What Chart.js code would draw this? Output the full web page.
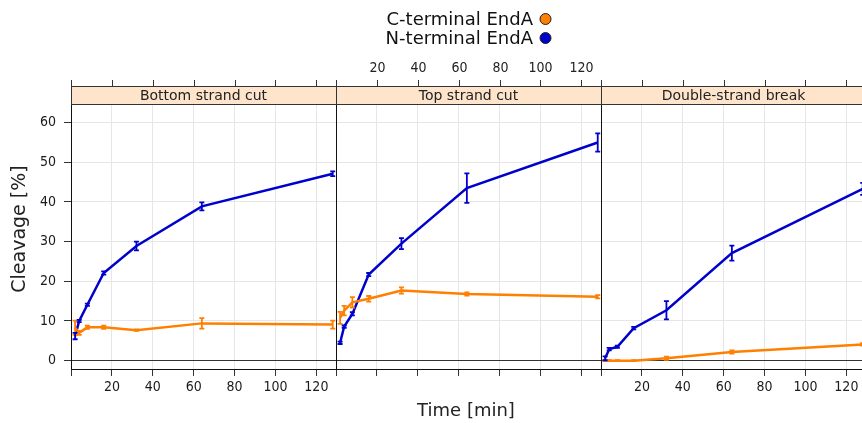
<!DOCTYPE html>
<html><head><meta charset="utf-8">
<script src="https://cdn.jsdelivr.net/npm/chart.js@4.4.1/dist/chart.umd.min.js"></script>
<style>
html,body{margin:0;padding:0;background:#fff;overflow:hidden;width:862px;height:423px;}
canvas{position:absolute;left:0;top:0;}
</style></head><body>
<canvas id="c0" width="870" height="423"></canvas>
<canvas id="c1" width="870" height="423"></canvas>
<canvas id="c2" width="870" height="423"></canvas>
<script>
// ---- data ----
const PANELS = ['Bottom strand cut', 'Top strand cut', 'Double-strand break'];
const SERIES_NAMES = ['C-terminal EndA', 'N-terminal EndA'];
const TIMES = [2, 4, 8, 16, 32, 64, 128];
const X_TICKS = [0, 20, 40, 60, 80, 100, 120];
const Y_TICKS = [0, 10, 20, 30, 40, 50, 60];

const C_BOTTOM     = [8.3, 7.0, 8.4, 8.4, 7.7, 9.4, 9.1];
const C_BOTTOM_ERR = [1.8, 0.5, 0.4, 0.4, 0.2, 1.3, 1.0];
const N_BOTTOM     = [6.2, 10.0, 14.1, 22.1, 28.9, 38.9, 47.1];
const N_BOTTOM_ERR = [0.8, 0.3, 0.3, 0.4, 1.1, 1.0, 0.6];

const C_TOP     = [10.8, 12.6, 14.7, 15.6, 17.7, 16.8, 16.1];
const C_TOP_ERR = [1.5, 1.2, 1.3, 0.7, 0.8, 0.4, 0.4];
const N_TOP     = [4.5, 8.6, 11.8, 21.7, 29.5, 43.5, 55.0];
const N_TOP_ERR = [0.3, 0.3, 0.4, 0.4, 1.4, 3.7, 2.3];

const C_DSB     = [0.0, 0.0, 0.0, 0.0, 0.6, 2.2, 4.1];
const C_DSB_ERR = [0.1, 0.1, 0.1, 0.1, 0.4, 0.4, 0.3];
const N_DSB     = [0.6, 2.9, 3.5, 8.2, 12.7, 27.1, 43.3];
const N_DSB_ERR = [0.5, 0.3, 0.3, 0.3, 2.3, 1.9, 1.5];

const C_VALUES = [C_BOTTOM, C_TOP, C_DSB];
const C_ERRORS = [C_BOTTOM_ERR, C_TOP_ERR, C_DSB_ERR];
const N_VALUES = [N_BOTTOM, N_TOP, N_DSB];
const N_ERRORS = [N_BOTTOM_ERR, N_TOP_ERR, N_DSB_ERR];

// ---- styling / layout ----
const ORANGE = '#FF7F00', BLUE = '#0000CC';
const CANVAS_W = 870;
const PANEL_LEFT = [71, 336, 601], PANEL_RIGHT = [336, 601, 866];
const TICK_FONT = "'DejaVu Sans Condensed', 'DejaVu Sans', sans-serif";
const TEXT_FONT = "'DejaVu Sans', sans-serif";
const X_MIN = 0, X_MAX = 129.6, Y_MIN = -2.1, Y_MAX = 64.7;

const decor = {
  id: 'decor',
  afterDatasetsDraw(chart, args, o) {
    const ctx = chart.ctx, xs = chart.scales.x, ys = chart.scales.y, a = chart.chartArea;
    // error bars
    chart.data.datasets.forEach((ds, di) => {
      ctx.save();
      ctx.beginPath(); ctx.rect(a.left, a.top, a.right - a.left, a.bottom - a.top); ctx.clip();
      ctx.strokeStyle = ds.borderColor; ctx.lineWidth = 1.8;
      ds.data.forEach((p, k) => {
        const e = ds.errors[k]; if (!e) return;
        const x = xs.getPixelForValue(p.x);
        const y1 = ys.getPixelForValue(p.y + e), y2 = ys.getPixelForValue(p.y - e);
        ctx.beginPath();
        ctx.moveTo(x, y1); ctx.lineTo(x, y2);
        ctx.moveTo(x - 2.5, y1); ctx.lineTo(x + 2.5, y1);
        ctx.moveTo(x - 2.5, y2); ctx.lineTo(x + 2.5, y2);
        ctx.stroke();
      });
      ctx.restore();
    });
    ctx.save();
    // frame
    ctx.strokeStyle = '#111'; ctx.lineWidth = 1;
    ctx.strokeRect(Math.round(a.left) + 0.5, Math.round(a.top) + 0.5, Math.round(a.right - a.left), Math.round(a.bottom - a.top));
    // strip
    ctx.fillStyle = '#FFE4CC';
    ctx.fillRect(a.left, 86, a.right - a.left, a.top - 86);
    ctx.strokeStyle = '#333';
    ctx.strokeRect(Math.round(a.left) + 0.5, 86.5, Math.round(a.right - a.left), Math.round(a.top - 86));
    ctx.fillStyle = '#222'; ctx.font = '14px ' + TEXT_FONT;
    ctx.textAlign = 'center'; ctx.textBaseline = 'middle';
    ctx.fillText(o.strip, (a.left + a.right) / 2, 96);
    // top ticks
    ctx.strokeStyle = '#333'; ctx.lineWidth = 1;
    ctx.font = '14px ' + TICK_FONT;
    X_TICKS.forEach(v => {
      const x = Math.round(xs.getPixelForValue(v)) + 0.5;
      ctx.beginPath(); ctx.moveTo(x, 80); ctx.lineTo(x, 86); ctx.stroke();
      if (o.topLabels && v !== 0) ctx.fillText(String(v), x, 68);
    });
    // legend
    if (o.legend) {
      const cols = [ORANGE, BLUE], ys2 = [19, 38];
      ctx.font = '18px ' + TEXT_FONT; ctx.textAlign = 'right';
      SERIES_NAMES.forEach((n, k) => {
        ctx.fillStyle = '#111';
        ctx.fillText(n, 533, ys2[k] + 1);
        ctx.beginPath(); ctx.arc(545.5, ys2[k], 5.5, 0, Math.PI * 2);
        ctx.fillStyle = cols[k]; ctx.fill();
        ctx.strokeStyle = '#222'; ctx.lineWidth = 1; ctx.stroke();
      });
    }
    if (o.xTitle) {
      ctx.fillStyle = '#222'; ctx.font = '18px ' + TEXT_FONT; ctx.textAlign = 'center';
      ctx.fillText('Time [min]', 466, 411);
    }
    if (o.yTitle) {
      ctx.save();
      ctx.translate(20, 229); ctx.rotate(-Math.PI / 2);
      ctx.fillStyle = '#222'; ctx.font = '19px ' + TEXT_FONT; ctx.textAlign = 'center';
      ctx.fillText('Cleavage [%]', 0, 0);
      ctx.restore();
    }
    ctx.restore();
  }
};

function pts(vals) { return TIMES.map((t, k) => ({ x: t, y: vals[k] })); }

PANELS.forEach((name, i) => {
  new Chart(document.getElementById('c' + i), {
    type: 'line',
    data: {
      datasets: [
        { label: SERIES_NAMES[0], data: pts(C_VALUES[i]), errors: C_ERRORS[i],
          borderColor: ORANGE, backgroundColor: ORANGE, borderWidth: 2.5, pointRadius: 0, tension: 0 },
        { label: SERIES_NAMES[1], data: pts(N_VALUES[i]), errors: N_ERRORS[i],
          borderColor: BLUE, backgroundColor: BLUE, borderWidth: 2.5, pointRadius: 0, tension: 0 }
      ]
    },
    options: {
      responsive: false, animation: false, devicePixelRatio: 1,
      layout: { padding: { left: i === 0 ? 0 : PANEL_LEFT[i], right: CANVAS_W - PANEL_RIGHT[i], top: 104, bottom: 0 } },
      plugins: {
        legend: { display: false }, tooltip: { enabled: false },
        decor: { strip: name, topLabels: i === 1, legend: i === 1, xTitle: i === 1, yTitle: i === 0 }
      },
      scales: {
        x: {
          type: 'linear', position: 'bottom', min: X_MIN, max: X_MAX,
          afterBuildTicks: s => { s.ticks = X_TICKS.map(v => ({ value: v })); },
          afterFit: s => { s.height = 54; },
          grid: { color: '#e6e6e6', tickColor: '#333', tickLength: 7, lineWidth: 1 },
          border: { display: false },
          ticks: {
            display: i !== 1, padding: 3, maxRotation: 0, autoSkip: false, color: '#1a1a1a',
            font: { family: TICK_FONT, size: 14 },
            callback: v => (v === 0 ? '' : String(v))
          }
        },
        y: {
          type: 'linear', min: Y_MIN, max: Y_MAX,
          afterBuildTicks: s => { s.ticks = Y_TICKS.map(v => ({ value: v })); },
          afterFit: s => { s.width = i === 0 ? 71 : 0; },
          grid: {
            color: c => (c.tick && c.tick.value === 0 ? '#333' : '#e6e6e6'),
            tickColor: '#333', tickLength: 7, drawTicks: i === 0, lineWidth: 1
          },
          border: { display: false },
          ticks: {
            display: i === 0, padding: 8, color: '#1a1a1a',
            font: { family: TICK_FONT, size: 14 }
          }
        }
      }
    },
    plugins: [decor]
  });
});
</script>
</body></html>
